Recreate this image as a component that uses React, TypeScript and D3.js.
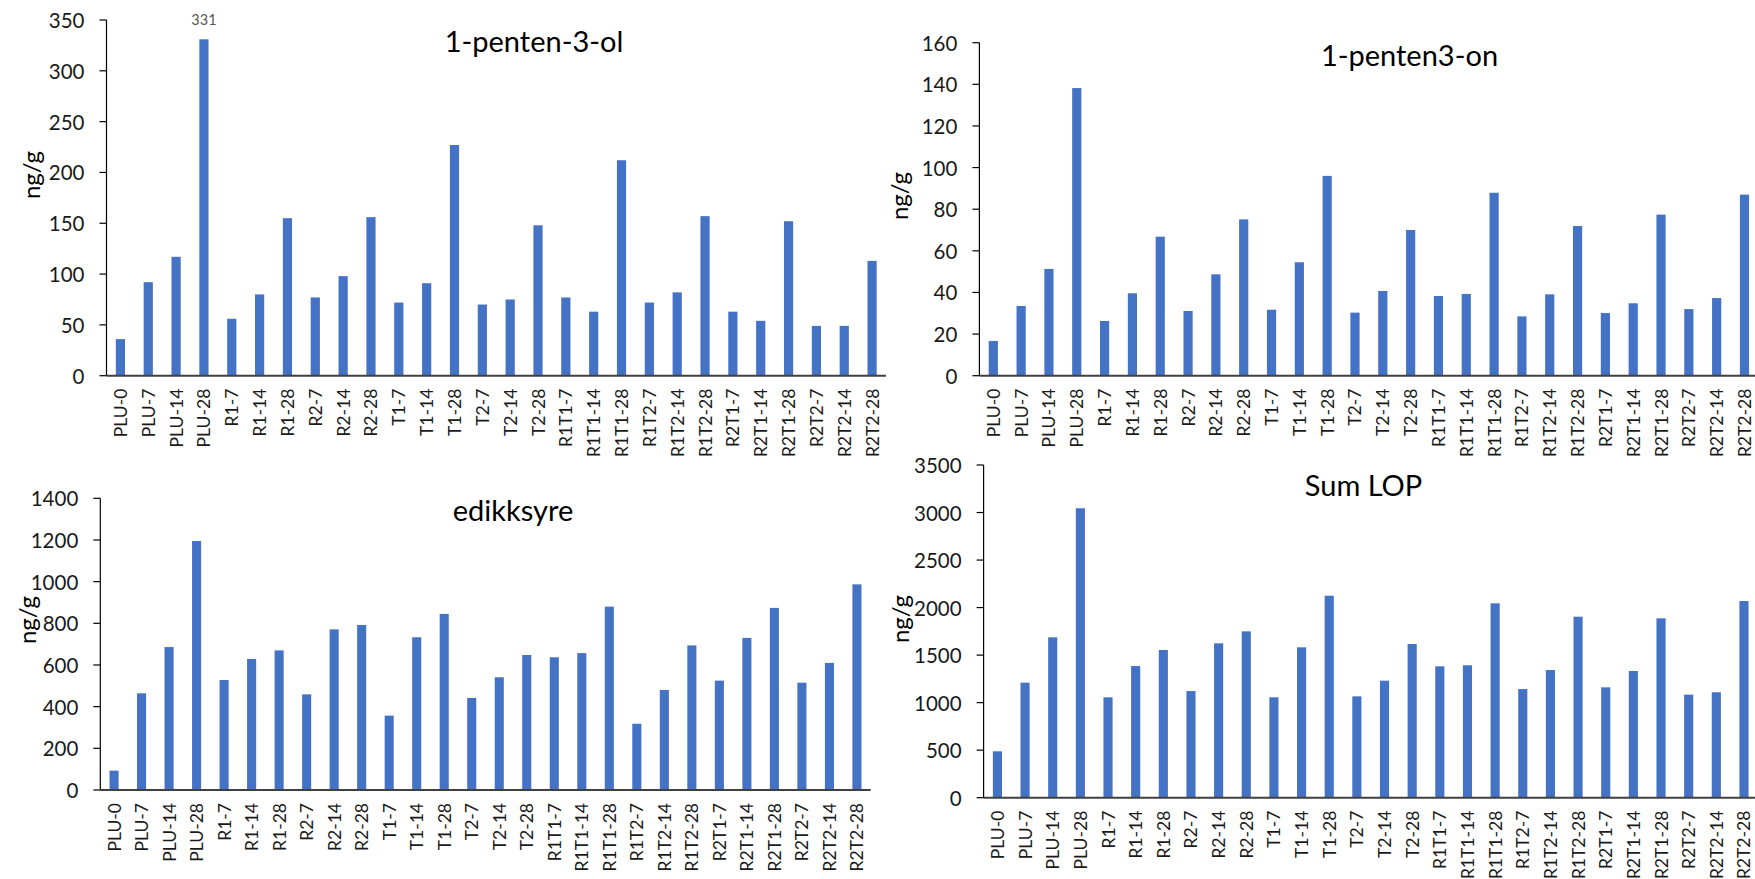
import React from "react";
import * as d3 from "d3";

const categories = [
  "PLU-0", "PLU-7", "PLU-14", "PLU-28", "R1-7", "R1-14", "R1-28", "R2-7", "R2-14", "R2-28",
  "T1-7", "T1-14", "T1-28", "T2-7", "T2-14", "T2-28", "R1T1-7", "R1T1-14", "R1T1-28",
  "R1T2-7", "R1T2-14", "R1T2-28", "R2T1-7", "R2T1-14", "R2T1-28", "R2T2-7", "R2T2-14", "R2T2-28",
];

const pentenol = [36, 92, 117, 331, 56, 80, 155, 77, 98, 156, 72, 91, 227, 70, 75, 148, 77, 63, 212, 72, 82, 157, 63, 54, 152, 49, 49, 113];
const pentenon = [16.7, 33.5, 51.3, 138.2, 26.3, 39.6, 66.8, 31.1, 48.7, 75.1, 31.7, 54.5, 96, 30.3, 40.7, 70, 38.3, 39.3, 87.9, 28.5, 39.1, 71.9, 30.1, 34.8, 77.4, 32, 37.3, 87];
const edikksyre = [93, 464, 686, 1195, 528, 629, 670, 459, 771, 792, 357, 733, 845, 442, 541, 648, 637, 657, 880, 318, 480, 694, 525, 730, 874, 515, 610, 987];
const sumLop = [488, 1210, 1687, 3045, 1056, 1385, 1554, 1122, 1624, 1750, 1056, 1582, 2125, 1066, 1231, 1617, 1382, 1393, 2045, 1143, 1343, 1904, 1161, 1333, 1887, 1084, 1109, 2069];

const ticks1 = [0, 50, 100, 150, 200, 250, 300, 350];
const ticks2 = [0, 20, 40, 60, 80, 100, 120, 140, 160];
const ticks3 = [0, 200, 400, 600, 800, 1000, 1200, 1400];
const ticks4 = [0, 500, 1000, 1500, 2000, 2500, 3000, 3500];

const titles = ["1-penten-3-ol", "1-penten3-on", "edikksyre", "Sum LOP"];
const yTitle = "ng/g";
const dataLabel = { chart: 0, index: 3, text: "331" };

const FONT = "Lato, 'Open Sans', sans-serif";
const BAR = "#4472C4";

type PanelProps = {
  values: number[];
  ticks: number[];
  title: string;
  x0: number; x1: number; yBottom: number; yTop: number;
  titleX: number; titleY: number;
  yTitleX: number; yTitleY: number;
  label?: string; labelIndex?: number;
};

function Panel(p: PanelProps) {
  const max = p.ticks[p.ticks.length - 1];
  const x = d3.scaleBand<string>().domain(categories).range([p.x0, p.x1]).paddingInner(0.67).paddingOuter(0.335);
  const y = d3.scaleLinear().domain([0, max]).range([p.yBottom, p.yTop]);
  return (
    <g>
      {p.values.map((v, i) => (
        <rect key={i} x={x(categories[i])!} y={y(v)} width={x.bandwidth()} height={y(0) - y(v)} fill={BAR} />
      ))}
      <line x1={p.x0} x2={p.x0} y1={y(0)} y2={y(max)} stroke="#000" strokeWidth={1.2} />
      {p.ticks.map((t) => (
        <g key={t}>
          <line x1={p.x0 - 7} x2={p.x0} y1={y(t)} y2={y(t)} stroke="#000" strokeWidth={1.2} />
          <text x={p.x0 - 22} y={y(t)} textAnchor="end" dominantBaseline="central" fontSize={20.5} fontFamily={FONT} fill="#1a1a1a">{t}</text>
        </g>
      ))}
      <line x1={p.x0} x2={p.x1} y1={y(0)} y2={y(0)} stroke="#404040" strokeWidth={2} />
      {categories.map((c) => {
        const cx = x(c)! + x.bandwidth() / 2;
        const ty = y(0) + 13;
        return (
          <text key={c} transform={`translate(${cx},${ty}) rotate(-90)`} textAnchor="end" dominantBaseline="central" fontSize={17.5} fontFamily={FONT} fill="#1a1a1a">{c}</text>
        );
      })}
      <text x={p.titleX} y={p.titleY} textAnchor="middle" fontSize={29} fontFamily={FONT} fill="#000">{p.title}</text>
      <text transform={`translate(${p.yTitleX},${p.yTitleY}) rotate(-90)`} textAnchor="middle" dominantBaseline="central" fontSize={24} fontWeight={400} fontFamily={FONT} fill="#000">{yTitle}</text>
      {p.label !== undefined && p.labelIndex !== undefined && (
        <text x={x(categories[p.labelIndex])! + x.bandwidth() / 2} y={y(p.values[p.labelIndex]) - 14} textAnchor="middle" fontSize={14.5} fontFamily={FONT} fill="#595959">{p.label}</text>
      )}
    </g>
  );
}

export default function App() {
  return (
    <svg width={1755} height={879} style={{ position: "absolute", left: 0, top: 0, background: "#fff" }}>
      <Panel values={pentenol} ticks={ticks1} title={titles[0]} x0={106.5} x1={886} yBottom={375.7} yTop={20}
        titleX={534} titleY={51.7} yTitleX={30} yTitleY={175} label={dataLabel.text} labelIndex={dataLabel.index} />
      <Panel values={pentenon} ticks={ticks2} title={titles[1]} x0={979.4} x1={1758.4} yBottom={375.7} yTop={42.7}
        titleX={1409.5} titleY={66} yTitleX={898} yTitleY={196} />
      <Panel values={edikksyre} ticks={ticks3} title={titles[2]} x0={100.3} x1={870.7} yBottom={790} yTop={498.3}
        titleX={513} titleY={521} yTitleX={26} yTitleY={620} />
      <Panel values={sumLop} ticks={ticks4} title={titles[3]} x0={983.6} x1={1757.8} yBottom={797.7} yTop={465}
        titleX={1363.5} titleY={496} yTitleX={899} yTitleY={619} />
    </svg>
  );
}
